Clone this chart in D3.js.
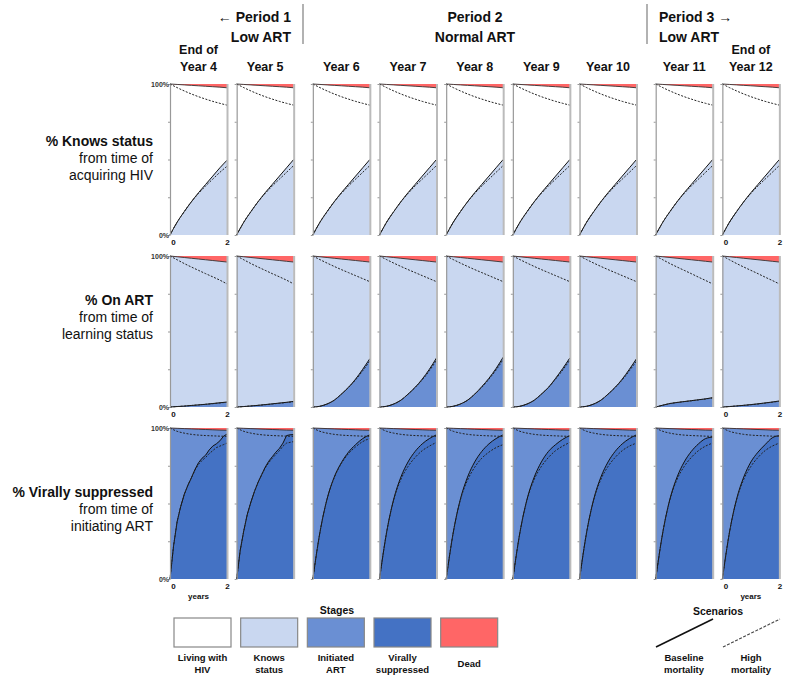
<!DOCTYPE html>
<html>
<head>
<meta charset="utf-8">
<script src="https://cdn.jsdelivr.net/npm/d3@7"></script>
<style>
  html, body { margin: 0; padding: 0; background: #fff; }
  svg { display: block; font-family: "Liberation Sans", Arial, sans-serif; }
</style>
</head>
<body>
<svg id="chart" width="800" height="691"></svg>
<script>
// ---------------- DATA ----------------
const times = [0, 0.25, 0.5, 0.75, 1, 1.25, 1.5, 1.75, 2];
const timesFine = [0, 0.125, 0.25, 0.375, 0.5, 0.625, 0.75, 0.875, 1, 1.125, 1.25, 1.375, 1.5, 1.625, 1.75, 1.875, 2];

const columnLabels = [["End of", "Year 4"], ["Year 5"], ["Year 6"], ["Year 7"], ["Year 8"], ["Year 9"], ["Year 10"], ["Year 11"], ["End of", "Year 12"]];
const columnPeriod = [0, 0, 1, 1, 1, 1, 1, 2, 2];
const periodLabels = [["\u2190 Period 1", "Low ART"], ["Period 2", "Normal ART"], ["Period 3 \u2192", "Low ART"]];

const rowLabels = [
  ["% Knows status", "from time of", "acquiring HIV"],
  ["% On ART", "from time of", "learning status"],
  ["% Virally suppressed", "from time of", "initiating ART"]
];

const yTicks = [0, 25, 50, 75, 100];
const xTicks = [0, 2];

// Row 1: % knows status (baseline = solid, high mortality = dashed)
const knowsBase = [
  [0, 8.5, 15.5, 22, 28, 33.5, 39, 44.5, 49.5],
  [0, 8.5, 15.5, 22, 28, 33.5, 39, 44.5, 50],
  [0, 8.5, 15.5, 22, 28, 33.5, 39, 44.5, 50],
  [0, 8.5, 15.5, 22, 28, 33.5, 39, 44.5, 50],
  [0, 8.5, 15.5, 22, 28, 33.5, 39, 44.5, 50],
  [0, 8.5, 15.5, 22, 28, 33.5, 39, 44.5, 50],
  [0, 8.5, 15.5, 22, 28, 33.5, 39, 44.5, 50],
  [0, 8.5, 15.5, 22, 28, 33.5, 39, 44.5, 50],
  [0, 8.5, 15.5, 22, 28, 33.5, 39, 44.5, 50]
];
const knowsHigh = [
  [0, 8.5, 15.5, 22, 27.5, 32.5, 37, 41.5, 45.5],
  [0, 8.5, 15.5, 22, 27.5, 32.5, 37, 41.5, 46],
  [0, 8.5, 15.5, 22, 27.5, 32.5, 37, 41.5, 46],
  [0, 8.5, 15.5, 22, 27.5, 32.5, 37, 41.5, 46],
  [0, 8.5, 15.5, 22, 27.5, 32.5, 37, 41.5, 46],
  [0, 8.5, 15.5, 22, 27.5, 32.5, 37, 41.5, 46],
  [0, 8.5, 15.5, 22, 27.5, 32.5, 37, 41.5, 46],
  [0, 8.5, 15.5, 22, 27.5, 32.5, 37, 41.5, 46],
  [0, 8.5, 15.5, 22, 27.5, 32.5, 37, 41.5, 46]
];
// alive share (100 - dead), row 1
const aliveRow1Base = [100, 99.7, 99.4, 99.1, 98.8, 98.5, 98.2, 97.9, 97.5];
const aliveRow1High = [100, 97.6, 95.4, 93.4, 91.6, 90, 88.5, 87.2, 86];

// Row 2: % on ART
const onArtBase = [
  [0, 0.3, 0.6, 1, 1.4, 1.8, 2.3, 2.8, 3.3],
  [0, 0.3, 0.7, 1.1, 1.6, 2.1, 2.6, 3.1, 3.7],
  [0, 0.5, 2, 4.5, 8.5, 13, 18.5, 25, 32],
  [0, 0.5, 2, 4.5, 8.5, 13, 18.5, 25, 32.5],
  [0, 0.5, 2, 4.5, 8.5, 13.5, 19, 25.5, 33],
  [0, 0.5, 2, 4.5, 8.5, 13, 19, 25.5, 32.5],
  [0, 0.5, 2, 4.5, 8.5, 13, 18.5, 25, 32],
  [0, 1.2, 2.3, 3, 3.6, 4.2, 4.8, 5.4, 6.2],
  [0, 0.3, 0.7, 1.1, 1.6, 2.1, 2.7, 3.3, 4]
];
const onArtHigh = [
  [0, 0.3, 0.6, 1, 1.4, 1.8, 2.2, 2.7, 3.1],
  [0, 0.3, 0.7, 1.1, 1.5, 2, 2.5, 3, 3.5],
  [0, 0.5, 2, 4.5, 8.5, 13, 18, 24, 30.5],
  [0, 0.5, 2, 4.5, 8.5, 13, 18, 24, 31],
  [0, 0.5, 2, 4.5, 8.5, 13, 18.5, 24.5, 31.5],
  [0, 0.5, 2, 4.5, 8.5, 13, 18.5, 24.5, 31],
  [0, 0.5, 2, 4.5, 8.5, 13, 18, 24, 30.5],
  [0, 1.2, 2.3, 3, 3.6, 4.1, 4.7, 5.3, 6],
  [0, 0.3, 0.7, 1.1, 1.5, 2, 2.6, 3.2, 3.8]
];
const aliveRow2Base = [100, 99.5, 99, 98.5, 98, 97.5, 97, 96.5, 96];
const aliveRow2High = [
  [100, 97.5, 95, 92.7, 90.5, 88.3, 86.2, 84, 81.5],
  [100, 97.5, 95, 92.7, 90.5, 88.3, 86.2, 84, 81.5],
  [100, 97.6, 95.3, 93.1, 91, 89, 87, 85, 83],
  [100, 97.6, 95.3, 93.1, 91, 89, 87, 85, 83],
  [100, 97.6, 95.3, 93.1, 91, 89, 87, 85, 83],
  [100, 97.6, 95.3, 93.1, 91, 89, 87, 85, 83],
  [100, 97.6, 95.3, 93.1, 91, 89, 87, 85, 83],
  [100, 97.5, 95, 92.7, 90.5, 88.3, 86, 83.8, 81.5],
  [100, 97.5, 95, 92.7, 90.5, 88.3, 86, 83.8, 81.5]
];

// Row 3: % virally suppressed (first two columns on the fine time grid)
const vsBase = [
  [0, 22, 38, 48, 56, 62, 67, 72.5, 77, 80, 82, 85.5, 88, 89.5, 91.5, 94.5, 96],
  [0, 19, 32, 43, 51, 58, 64, 69, 74, 78, 81, 84, 86.5, 90, 95, 95.5, 95.6],
  [0, 31, 53, 67.5, 77, 84, 89, 93, 95.5],
  [0, 31, 53, 67.5, 77.5, 84.5, 89.5, 93, 95.5],
  [0, 31, 53, 67.5, 77.5, 84.5, 89.5, 93, 95.5],
  [0, 31, 53, 67.5, 77.5, 84.5, 89, 92.5, 95],
  [0, 31, 53, 67.5, 77.5, 84.5, 89.5, 93, 95.5],
  [0, 31, 53, 67.5, 77.5, 84.5, 89.5, 93, 94],
  [0, 31, 53, 67.5, 77.5, 84, 89, 93.5, 95]
];
const vsHigh = [
  [0, 22, 38, 48, 56, 62, 67, 72, 76, 78.5, 80.5, 83, 85, 87, 88, 89, 90],
  [0, 19, 32, 43, 51, 58, 64, 69, 73.5, 77, 80, 82.5, 85, 88, 90, 90.5, 91],
  [0, 31, 53, 67, 76.5, 83, 87.5, 91, 93],
  [0, 31, 52.5, 66, 74.5, 80.5, 85, 88, 90.5],
  [0, 31, 52.5, 65.5, 74, 80, 84, 87, 89],
  [0, 31, 52.5, 66, 74.5, 80.5, 85, 88, 90.5],
  [0, 31, 52.5, 66, 74.5, 80.5, 85, 88, 90],
  [0, 31, 52.5, 66, 74.5, 80.5, 85, 88, 90],
  [0, 31, 52.5, 66, 74.5, 80.5, 85, 88, 90]
];
const aliveRow3Base = [100, 99.8, 99.6, 99.4, 99.2, 99, 98.8, 98.6, 98.5];
const aliveRow3High = [100, 97.8, 96.6, 95.8, 95.3, 95, 94.8, 94.6, 94.5];

const stageNames = [["Living with", "HIV"], ["Knows", "status"], ["Initiated", "ART"], ["Virally", "suppressed"], ["Dead"]];
const stageColors = ["#FFFFFF", "#C9D7F0", "#6A8FD3", "#4472C4", "#FF6666"];
const scenarioNames = [["Baseline", "mortality"], ["High", "mortality"]];

// ---------------- LAYOUT ----------------
const svg = d3.select("#chart");
const panelW = 57, panelH = 151;
const colPitch = 66.67, periodGap = 9.5;
const colX = columnLabels.map((d, i) => 170 + i * colPitch + columnPeriod[i] * periodGap);
const rowY = [84, 256, 428];

// row specs: background color, bottom series color
const rows = [
  { bg: stageColors[0], low: stageColors[1], base: knowsBase, high: knowsHigh,
    aliveBase: () => aliveRow1Base, aliveHigh: () => aliveRow1High },
  { bg: stageColors[1], low: stageColors[2], base: onArtBase, high: onArtHigh,
    aliveBase: () => aliveRow2Base, aliveHigh: c => aliveRow2High[c] },
  { bg: stageColors[2], low: stageColors[3], base: vsBase, high: vsHigh,
    aliveBase: () => aliveRow3Base, aliveHigh: () => aliveRow3High }
];

const x = d3.scaleLinear().domain([0, 2]).range([0, panelW]);
const y = d3.scaleLinear().domain([0, 100]).range([panelH, 0]);

function pts(values) {
  const t = values.length === timesFine.length ? timesFine : times;
  return values.map((v, i) => [t[i], v]);
}
function curveFor(values) {
  return values.length === timesFine.length ? d3.curveLinear : d3.curveMonotoneX;
}

rows.forEach((row, r) => {
  columnLabels.forEach((cl, c) => {
    const g = svg.append("g").attr("transform", `translate(${colX[c]},${rowY[r]})`);
    // background stage
    g.append("rect").attr("x", 0).attr("y", 0).attr("width", panelW).attr("height", panelH)
      .attr("fill", row.bg);

    const bVals = row.base[c], hVals = row.high[c];
    const abVals = row.aliveBase(c), ahVals = row.aliveHigh(c);

    // bottom stage area
    g.append("path").datum(pts(bVals))
      .attr("d", d3.area().curve(curveFor(bVals)).x(d => x(d[0])).y0(y(0)).y1(d => y(d[1])))
      .attr("fill", row.low);
    // dead area (top)
    g.append("path").datum(pts(abVals))
      .attr("d", d3.area().curve(d3.curveMonotoneX).x(d => x(d[0])).y0(y(100)).y1(d => y(d[1])))
      .attr("fill", stageColors[4]);

    const line = vals => d3.line().curve(curveFor(vals)).x(d => x(d[0])).y(d => y(d[1]))(pts(vals));

    // solid (baseline) lines
    g.append("path").attr("d", line(bVals)).attr("fill", "none").attr("stroke", "#111").attr("stroke-width", 1);
    g.append("path").attr("d", line(abVals)).attr("fill", "none").attr("stroke", "#333").attr("stroke-width", 0.9);
    // dashed (high mortality) lines
    g.append("path").attr("d", line(hVals)).attr("fill", "none").attr("stroke", "#222")
      .attr("stroke-width", 1).attr("stroke-dasharray", "2,1.5");
    g.append("path").attr("d", line(ahVals)).attr("fill", "none").attr("stroke", "#222")
      .attr("stroke-width", 1).attr("stroke-dasharray", "2,1.5");

    // left axis
    const ax = g.append("g").call(
      d3.axisLeft(y).tickValues(yTicks).tickSize(2).tickSizeOuter(0)
        .tickFormat(d => (c === 0 && (d === 0 || d === 100)) ? d + "%" : ""));
    ax.select(".domain").attr("stroke", "#999").attr("stroke-width", 1.2);
    ax.selectAll(".tick line").attr("stroke", "#999");
    ax.selectAll(".tick text").attr("font-size", 7).attr("font-weight", "bold")
      .attr("fill", "#333").attr("x", -1).attr("font-family", "Liberation Sans, Arial, sans-serif");

    // right border
    g.append("line").attr("x1", panelW + 0.5).attr("x2", panelW + 0.5).attr("y1", 0).attr("y2", panelH)
      .attr("stroke", "#bbb").attr("stroke-width", 2);

    // bottom tick labels on first and last columns
    if (c === 0 || c === columnLabels.length - 1) {
      const bx = g.append("g").attr("transform", `translate(0,${panelH})`)
        .call(d3.axisBottom(x).tickValues(xTicks).tickSize(0).tickFormat(d3.format("d")));
      bx.select(".domain").remove();
      bx.selectAll(".tick text").attr("font-size", 8).attr("font-weight", "bold")
        .attr("fill", "#111").attr("dy", "0.9em").attr("font-family", "Liberation Sans, Arial, sans-serif");
      bx.selectAll(".tick").filter(d => d === 0).select("text").attr("dx", 3);
      if (r === rows.length - 1) {
        g.append("text").attr("x", panelW / 2).attr("y", panelH + 20)
          .attr("text-anchor", "middle").attr("font-size", 8).attr("font-weight", "bold")
          .attr("fill", "#111").text("years");
      }
    }
  });
});

// ---------------- HEADERS ----------------
const header = svg.append("g").attr("font-weight", "bold").attr("font-size", 14).attr("fill", "#111");
const periodAnchors = [
  { x: 291, anchor: "end" },
  { x: 475, anchor: "middle" },
  { x: 659, anchor: "start" }
];
periodLabels.forEach((lines, p) => {
  lines.forEach((t, k) => {
    header.append("text").attr("x", periodAnchors[p].x).attr("y", 22 + k * 20)
      .attr("text-anchor", periodAnchors[p].anchor).text(t);
  });
});
[303, 647].forEach(sx => {
  svg.append("line").attr("x1", sx).attr("x2", sx).attr("y1", 4).attr("y2", 44)
    .attr("stroke", "#999").attr("stroke-width", 1.5);
});

columnLabels.forEach((lines, c) => {
  lines.forEach((t, k) => {
    svg.append("text").attr("x", colX[c] + panelW / 2)
      .attr("y", 71 - (lines.length - 1 - k) * 17)
      .attr("text-anchor", "middle").attr("font-size", 12.5).attr("font-weight", "bold")
      .attr("fill", "#111").text(t);
  });
});

const rowLabelY = [146, 305, 497];
rowLabels.forEach((lines, r) => {
  lines.forEach((t, k) => {
    svg.append("text").attr("x", 153).attr("y", rowLabelY[r] + k * 17)
      .attr("text-anchor", "end").attr("font-size", 14)
      .attr("font-weight", k === 0 ? "bold" : "normal").attr("fill", "#111").text(t);
  });
});

// ---------------- LEGENDS ----------------
const legX = d3.range(stageNames.length).map(i => 174 + i * colPitch);
svg.append("text").attr("x", 337).attr("y", 614).attr("text-anchor", "middle")
  .attr("font-size", 10.5).attr("font-weight", "bold").attr("fill", "#111").text("Stages");
stageNames.forEach((lines, i) => {
  svg.append("rect").attr("x", legX[i]).attr("y", 618).attr("width", 57).attr("height", 29)
    .attr("fill", stageColors[i]).attr("stroke", "#888").attr("stroke-width", 1.2);
  lines.forEach((t, k) => {
    svg.append("text").attr("x", legX[i] + 28.5)
      .attr("y", lines.length === 1 ? 667 : 661 + k * 12.3)
      .attr("text-anchor", "middle").attr("font-size", 9.5).attr("font-weight", "bold")
      .attr("fill", "#111").text(t);
  });
});

svg.append("text").attr("x", 718).attr("y", 615).attr("text-anchor", "middle")
  .attr("font-size", 10.5).attr("font-weight", "bold").attr("fill", "#111").text("Scenarios");
const scenX = [656, 723];
scenarioNames.forEach((lines, i) => {
  svg.append("line").attr("x1", scenX[i]).attr("y1", 647).attr("x2", scenX[i] + 57).attr("y2", 619)
    .attr("stroke", i === 0 ? "#111" : "#444").attr("stroke-width", i === 0 ? 1.6 : 1.1)
    .attr("stroke-dasharray", i === 0 ? null : "3,1.5");
  lines.forEach((t, k) => {
    svg.append("text").attr("x", scenX[i] + 28).attr("y", 661 + k * 12.3)
      .attr("text-anchor", "middle").attr("font-size", 9.5).attr("font-weight", "bold")
      .attr("fill", "#111").text(t);
  });
});
</script>
</body>
</html>
